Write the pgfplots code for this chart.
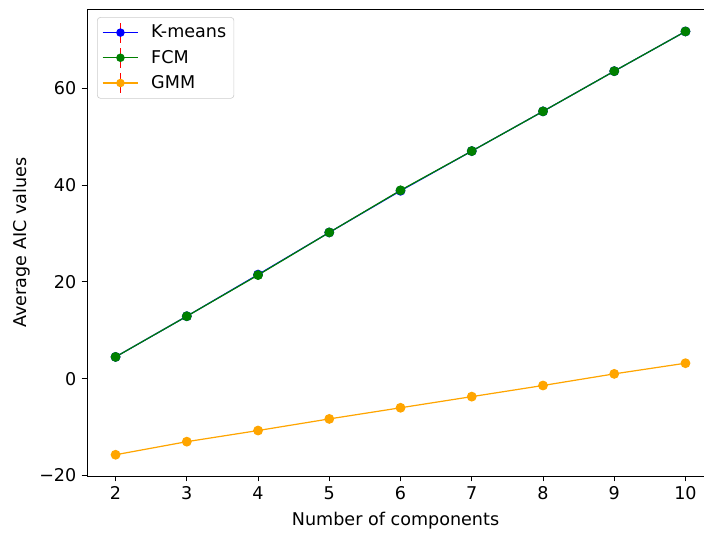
\documentclass[border=0pt]{standalone}
\usepackage{fontspec}
\setmainfont{DejaVu Sans}
\usepackage{pgfplots}
\pgfplotsset{compat=1.18}
\definecolor{mplgreen}{HTML}{008000}
\definecolor{mplorange}{HTML}{FFA500}
\pgfplotsset{
  errleg/.style={legend image code/.code={
    \draw[#1, line width=0.8pt] (0pt,0pt) -- (23.5pt,0pt);
    \draw[red, line width=0.8pt] (11.75pt,-6.5pt) -- (11.75pt,6.5pt);
    \fill[#1, draw=none] (11.75pt,0pt) circle (2.8pt);
  }}
}
\begin{document}
\begin{tikzpicture}
\begin{axis}[
  scale only axis,
  width=403.8pt, height=305.6pt,
  xmin=1.6, xmax=10.26,
  ymin=-20.1, ymax=76.3,
  axis x line*=box, axis y line*=left,
  axis line style={line width=0.6pt, -},
  xtick={2,3,4,5,6,7,8,9,10},
  ytick={-20,0,20,40,60},
  yticklabels={−20,0,20,40,60},
  /pgf/number format/assume math mode=true,
  tick align=outside, xtick pos=bottom, ytick pos=left,
  major tick length=3.5pt,
  tick style={line width=0.6pt, black},
  tick label style={font=\fontsize{11.5}{13}\selectfont},
  label style={font=\fontsize{11.5}{13}\selectfont},
  xlabel={Number of components},
  ylabel={Average AIC values},
  xlabel style={yshift=-1pt},
  ylabel style={yshift=-1pt},
  legend cell align=left,
  legend style={at={(0,1)}, anchor=north west, xshift=6.5pt, yshift=-5.2pt,
    draw=black!20, rounded corners=2pt, font=\fontsize{11.5}{13}\selectfont,
    inner xsep=3pt, inner ysep=3pt, row sep=2.5pt,
    /tikz/every odd column/.append style={column sep=6pt}},
]
\addplot[blue, line width=0.8pt, mark=*, mark size=2.8pt, mark options={fill=blue, draw=none}, errleg=blue]
coordinates {(2,4.5) (3,12.9) (4,21.5) (5,30.2) (6,38.8) (7,47.0) (8,55.2) (9,63.5) (10,71.7)};
\addlegendentry{K-means}
\addplot[mplgreen, line width=0.8pt, mark=*, mark size=2.8pt, mark options={fill=mplgreen, draw=none}, errleg=mplgreen]
coordinates {(2,4.5) (3,12.9) (4,21.4) (5,30.2) (6,38.9) (7,47.0) (8,55.2) (9,63.5) (10,71.7)};
\addlegendentry{FCM}
\addplot[mplorange, line width=0.8pt, mark=*, mark size=2.8pt, mark options={fill=mplorange, draw=none}, errleg=mplorange]
coordinates {(2,-15.7) (3,-13.0) (4,-10.7) (5,-8.3) (6,-6.0) (7,-3.7) (8,-1.4) (9,1.0) (10,3.2)};
\addlegendentry{GMM}
\end{axis}
\pgfresetboundingbox
\useasboundingbox (current axis.south west) ++(-57pt,-38pt) rectangle ([yshift=6pt]current axis.north east);
\end{tikzpicture}
\end{document}
